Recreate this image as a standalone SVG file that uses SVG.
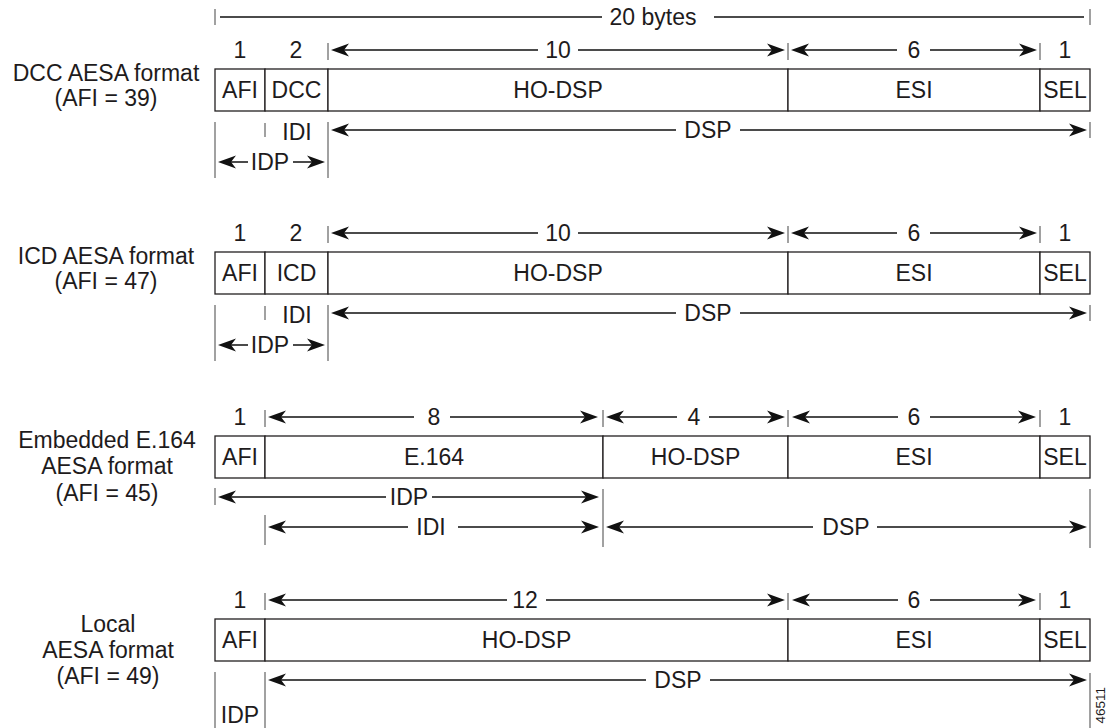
<svg xmlns="http://www.w3.org/2000/svg" xmlns:xlink="http://www.w3.org/1999/xlink" width="1114" height="728" viewBox="0 0 1114 728">
<style>
text{font-family:"Liberation Sans",Arial,Helvetica,sans-serif;font-size:23px;fill:#1e1b1c;text-anchor:middle}
.id{font-size:13.5px;text-anchor:end}
.cell{fill:#fff;stroke:#231f20;stroke-width:1.3}
.pl{stroke:#111;stroke-width:1.4;fill:none}
.tk{stroke:#555;stroke-width:1.1;fill:none}
.hd{fill:#111}
</style>
<defs>
<path id="hr" class="hd" d="M0,0 L-18,-6.5 L-13,0 L-18,6.5 Z"/>
<path id="hl" class="hd" d="M0,0 L18,-6.5 L13,0 L18,6.5 Z"/>
</defs>
<rect width="1114" height="728" fill="#fff"/>

<!-- labels -->
<g id="label-dcc">
<text x="106" y="81">DCC AESA format</text>
<text x="106" y="106">(AFI = 39)</text>
</g>
<g id="label-icd">
<text x="106" y="264">ICD AESA format</text>
<text x="106" y="289">(AFI = 47)</text>
</g>
<g id="label-e164">
<text x="107" y="448">Embedded E.164</text>
<text x="107" y="474">AESA format</text>
<text x="107" y="501">(AFI = 45)</text>
</g>
<g id="label-local">
<text x="108" y="632">Local</text>
<text x="108" y="658">AESA format</text>
<text x="108" y="684">(AFI = 49)</text>
</g>

<!-- row 1 DCC -->
<g id="row-dcc">
<rect class="cell" x="215" y="69" width="50" height="42"/>
<rect class="cell" x="265" y="69" width="63" height="42"/>
<rect class="cell" x="328" y="69" width="460" height="42"/>
<rect class="cell" x="788" y="69" width="252" height="42"/>
<rect class="cell" x="1040" y="69" width="50" height="42"/>
<text x="240" y="98">AFI</text>
<text x="296.5" y="98">DCC</text>
<text x="558" y="98">HO-DSP</text>
<text x="914" y="98">ESI</text>
<text x="1065" y="98">SEL</text>
</g>

<!-- row 2 ICD -->
<g id="row-icd">
<rect class="cell" x="215" y="252" width="50" height="42"/>
<rect class="cell" x="265" y="252" width="63" height="42"/>
<rect class="cell" x="328" y="252" width="460" height="42"/>
<rect class="cell" x="788" y="252" width="252" height="42"/>
<rect class="cell" x="1040" y="252" width="50" height="42"/>
<text x="240" y="281">AFI</text>
<text x="296.5" y="281">ICD</text>
<text x="558" y="281">HO-DSP</text>
<text x="914" y="281">ESI</text>
<text x="1065" y="281">SEL</text>
</g>

<!-- row 3 E.164 -->
<g id="row-e164">
<rect class="cell" x="215" y="436" width="50" height="42"/>
<rect class="cell" x="265" y="436" width="338" height="42"/>
<rect class="cell" x="603" y="436" width="185" height="42"/>
<rect class="cell" x="788" y="436" width="252" height="42"/>
<rect class="cell" x="1040" y="436" width="50" height="42"/>
<text x="240" y="465">AFI</text>
<text x="434" y="465">E.164</text>
<text x="695.5" y="465">HO-DSP</text>
<text x="914" y="465">ESI</text>
<text x="1065" y="465">SEL</text>
</g>

<!-- row 4 Local -->
<g id="row-local">
<rect class="cell" x="215" y="619" width="50" height="42"/>
<rect class="cell" x="265" y="619" width="523" height="42"/>
<rect class="cell" x="788" y="619" width="252" height="42"/>
<rect class="cell" x="1040" y="619" width="50" height="42"/>
<text x="240" y="648">AFI</text>
<text x="526.5" y="648">HO-DSP</text>
<text x="914" y="648">ESI</text>
<text x="1065" y="648">SEL</text>
</g>

<!-- connectors / dimension lines -->
<g id="connectors">
<!-- total 20 bytes -->
<path class="tk" d="M215,9 V25 M1090,9 V25"/>
<path class="pl" d="M220,17 H602 M714,17 H1084"/>
<text x="653" y="25">20 bytes</text>

<!-- row 1 numbers -->
<text x="240" y="58">1</text>
<text x="296" y="58">2</text>
<path class="tk" d="M328,43 V60 M788,43 V60 M1040,43 V60"/>
<path class="pl" d="M335,50 H538 M578,50 H780"/>
<use xlink:href="#hl" x="331" y="50"/><use xlink:href="#hr" x="785" y="50"/>
<text x="558" y="58">10</text>
<path class="pl" d="M795,50 H897 M930,50 H1032"/>
<use xlink:href="#hl" x="791" y="50"/><use xlink:href="#hr" x="1037" y="50"/>
<text x="914" y="58">6</text>
<text x="1065" y="58">1</text>
<!-- row 1 below -->
<path class="tk" d="M215,122 V178 M265,123 V137 M328,122 V178 M1090,122 V138"/>
<text x="297" y="140">IDI</text>
<path class="pl" d="M335,130 H676 M740,130 H1082"/>
<use xlink:href="#hl" x="331" y="130"/><use xlink:href="#hr" x="1087" y="130"/>
<text x="708" y="138">DSP</text>
<path class="pl" d="M222,162 H248 M293,162 H320"/>
<use xlink:href="#hl" x="218" y="162"/><use xlink:href="#hr" x="325" y="162"/>
<text x="270" y="170">IDP</text>

<!-- row 2 numbers -->
<text x="240" y="241">1</text>
<text x="296" y="241">2</text>
<path class="tk" d="M328,226 V243 M788,226 V243 M1040,226 V243"/>
<path class="pl" d="M335,233 H538 M578,233 H780"/>
<use xlink:href="#hl" x="331" y="233"/><use xlink:href="#hr" x="785" y="233"/>
<text x="558" y="241">10</text>
<path class="pl" d="M795,233 H897 M930,233 H1032"/>
<use xlink:href="#hl" x="791" y="233"/><use xlink:href="#hr" x="1037" y="233"/>
<text x="914" y="241">6</text>
<text x="1065" y="241">1</text>
<!-- row 2 below -->
<path class="tk" d="M215,305 V361 M265,306 V320 M328,305 V361 M1090,305 V321"/>
<text x="297" y="323">IDI</text>
<path class="pl" d="M335,313 H676 M740,313 H1082"/>
<use xlink:href="#hl" x="331" y="313"/><use xlink:href="#hr" x="1087" y="313"/>
<text x="708" y="321">DSP</text>
<path class="pl" d="M222,345 H248 M293,345 H320"/>
<use xlink:href="#hl" x="218" y="345"/><use xlink:href="#hr" x="325" y="345"/>
<text x="270" y="353">IDP</text>

<!-- row 3 numbers -->
<text x="240" y="425">1</text>
<path class="tk" d="M265,410 V427 M603,410 V427 M788,410 V427 M1040,410 V427"/>
<path class="pl" d="M272,417 H414 M450,417 H593"/>
<use xlink:href="#hl" x="268" y="417"/><use xlink:href="#hr" x="598" y="417"/>
<text x="434" y="425">8</text>
<path class="pl" d="M610,417 H677 M709,417 H780"/>
<use xlink:href="#hl" x="606" y="417"/><use xlink:href="#hr" x="785" y="417"/>
<text x="694" y="425">4</text>
<path class="pl" d="M796,417 H898 M930,417 H1031"/>
<use xlink:href="#hl" x="792" y="417"/><use xlink:href="#hr" x="1036" y="417"/>
<text x="914" y="425">6</text>
<text x="1065" y="425">1</text>
<!-- row 3 below -->
<path class="tk" d="M215,488 V505 M603,489 V547 M265,515 V545 M1090,489 V548"/>
<path class="pl" d="M222,497 H386 M432,497 H594"/>
<use xlink:href="#hl" x="218" y="497"/><use xlink:href="#hr" x="599" y="497"/>
<text x="409" y="505">IDP</text>
<path class="pl" d="M272,527 H408 M458,527 H594"/>
<use xlink:href="#hl" x="268" y="527"/><use xlink:href="#hr" x="599" y="527"/>
<text x="431" y="535">IDI</text>
<path class="pl" d="M610,527 H813 M877,527 H1082"/>
<use xlink:href="#hl" x="606" y="527"/><use xlink:href="#hr" x="1087" y="527"/>
<text x="846" y="535">DSP</text>

<!-- row 4 numbers -->
<text x="240" y="608">1</text>
<path class="tk" d="M265,593 V610 M788,593 V610 M1040,593 V610"/>
<path class="pl" d="M272,600 H507 M546,600 H780"/>
<use xlink:href="#hl" x="268" y="600"/><use xlink:href="#hr" x="785" y="600"/>
<text x="525" y="608">12</text>
<path class="pl" d="M796,600 H898 M930,600 H1031"/>
<use xlink:href="#hl" x="792" y="600"/><use xlink:href="#hr" x="1036" y="600"/>
<text x="914" y="608">6</text>
<text x="1065" y="608">1</text>
<!-- row 4 below -->
<path class="tk" d="M215,672 V728 M265,672 V728 M1090,673 V728"/>
<path class="pl" d="M272,680 H646 M710,680 H1082"/>
<use xlink:href="#hl" x="268" y="680"/><use xlink:href="#hr" x="1087" y="680"/>
<text x="678" y="688">DSP</text>
<text x="240" y="723">IDP</text>
</g>

<text class="id" transform="translate(1105,687) rotate(-90)">46511</text>
</svg>
